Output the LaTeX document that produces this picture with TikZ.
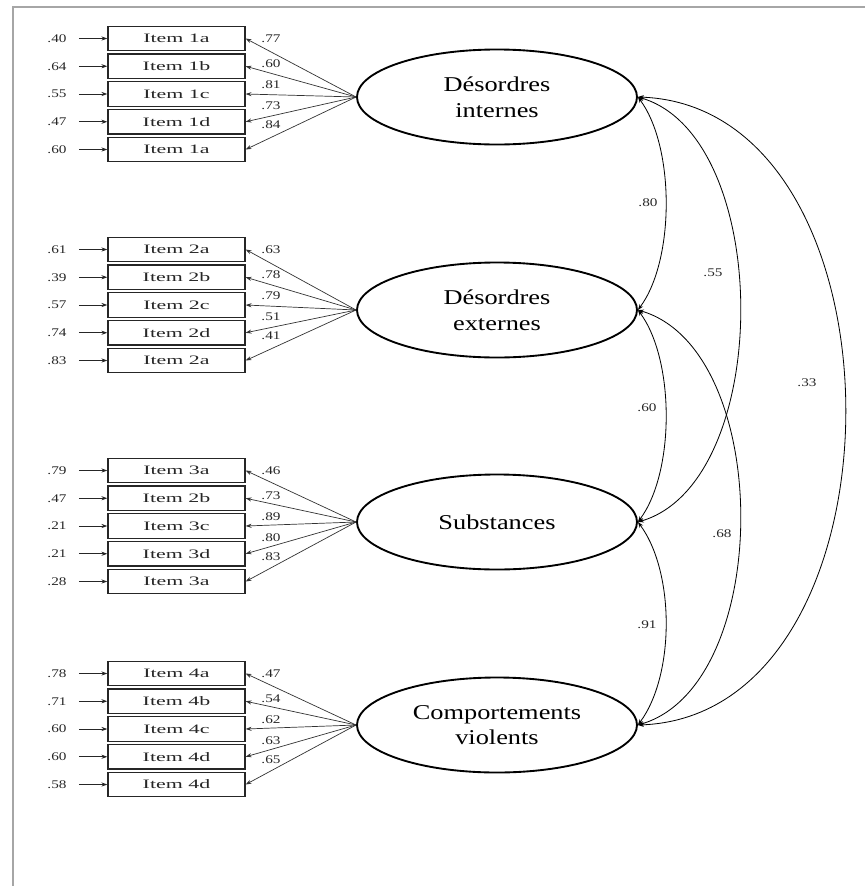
\documentclass[tikz,border=0pt]{standalone}
\usepackage{fontspec}
\setmainfont{Liberation Serif}
\usepackage{graphicx}
\usetikzlibrary{arrows.meta,shapes.geometric,calc}
\begin{document}
\begin{tikzpicture}[x=0.03cm,y=-0.03cm,
  itembox/.style={draw=black!85,line width=1.1pt,minimum width=4.11cm,minimum height=0.735cm,inner sep=0pt,font=\fontsize{11}{12}\selectfont,text=black!85},
  latent/.style={draw=black,ellipse,line width=1.6pt,minimum width=8.4cm,minimum height=2.85cm,inner sep=0pt,align=center,font=\fontsize{18}{22}\selectfont},
  num/.style={font=\fontsize{10}{12}\selectfont,inner sep=0pt,text=black!85},
  tip/.style={-{Stealth[length=5pt,width=3.5pt]}},
  corr/.style={{Stealth[length=5pt,width=3.5pt]}-{Stealth[length=5pt,width=3.5pt]},line width=0.7pt},
]
\useasboundingbox (0,0) rectangle (865,886);
\draw[gray!70,line width=1.6pt] (13,886) -- (13,7) -- (865,7);

\node[latent] (L1) at (497,97) {\scalebox{1.25}[1]{Désordres}\\\scalebox{1.25}[1]{internes}};
\node[latent] (L2) at (497,310) {\scalebox{1.25}[1]{Désordres}\\\scalebox{1.25}[1]{externes}};
\node[latent] (L3) at (497,522) {\scalebox{1.25}[1]{Substances}};
\node[latent] (L4) at (497,725) {\scalebox{1.25}[1]{Comportements}\\\scalebox{1.25}[1]{violents}};

\foreach \g/\k/\itm/\err/\ld in {
1/1/1a/.40/.77, 1/2/1b/.64/.60, 1/3/1c/.55/.81, 1/4/1d/.47/.73, 1/5/1a/.60/.84,
2/1/2a/.61/.63, 2/2/2b/.39/.78, 2/3/2c/.57/.79, 2/4/2d/.74/.51, 2/5/2a/.83/.41,
3/1/3a/.79/.46, 3/2/2b/.47/.73, 3/3/3c/.21/.89, 3/4/3d/.21/.80, 3/5/3a/.28/.83,
4/1/4a/.78/.47, 4/2/4b/.71/.54, 4/3/4c/.60/.62, 4/4/4d/.60/.63, 4/5/4d/.58/.65}{
  \pgfmathsetmacro\yy{{94,305,526,729}[\g-1]+{-55.5,-27.75,0,27.75,55.5}[\k-1]}
  \pgfmathsetmacro\ly{{94,305,526,729}[\g-1]+{-55,-30,-9,12,31}[\k-1]}
  \node[itembox] (b\g\k) at (176.5,\yy) {\scalebox{1.7}[1]{Item \itm}};
  \node[num] (e\g\k) at (57,\yy) {\scalebox{1.3}[1]{\err}};
  \draw[tip,line width=0.8pt,black!85] ([xshift=0.36cm]e\g\k.east) -- (b\g\k.west);
  \draw[tip,line width=0.6pt,black!80] (L\g.west) -- (b\g\k.east);
  \node[num] (l\g\k) at (271,\ly) {\scalebox{1.3}[1]{\ld}};
}

\draw[corr] (L1.east) .. controls +(37,50) and +(37,-50) .. (L2.east);
\draw[corr] (L2.east) .. controls +(37,50) and +(37,-50) .. (L3.east);
\draw[corr] (L3.east) .. controls +(37,50) and +(37,-50) .. (L4.east);
\draw[corr] (L1.east) .. controls +(136,40) and +(136,-40) .. (L3.east);
\draw[corr] (L2.east) .. controls +(136,40) and +(136,-40) .. (L4.east);
\draw[corr] (L1.east) .. controls +(276,10) and +(276,-10) .. (L4.east);

\node[num] (c12) at (648,203) {\scalebox{1.3}[1]{.80}};
\node[num] (c13) at (713,273) {\scalebox{1.3}[1]{.55}};
\node[num] (c14) at (807,383) {\scalebox{1.3}[1]{.33}};
\node[num] (c23) at (647,408) {\scalebox{1.3}[1]{.60}};
\node[num] (c24) at (722,534) {\scalebox{1.3}[1]{.68}};
\node[num] (c34) at (647,625) {\scalebox{1.3}[1]{.91}};
\end{tikzpicture}
\end{document}
